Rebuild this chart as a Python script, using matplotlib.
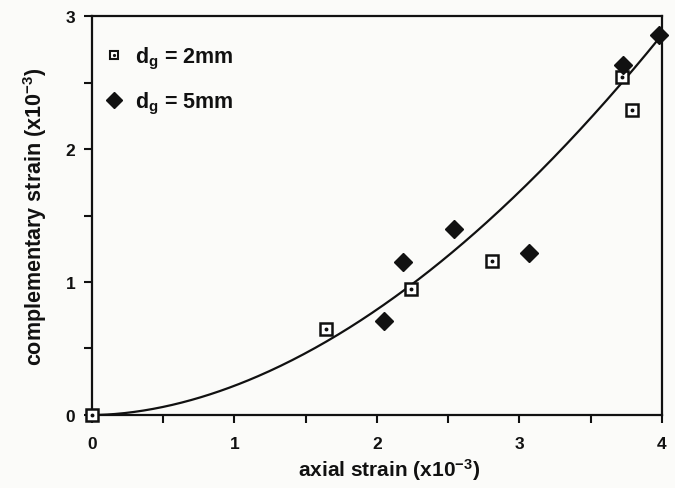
import numpy as np
import matplotlib
matplotlib.use("Agg")
import matplotlib.pyplot as plt
from matplotlib.legend_handler import HandlerTuple
from matplotlib.lines import Line2D
from matplotlib.ticker import MultipleLocator

plt.rcParams["font.family"] = ["Liberation Sans", "DejaVu Sans"]
plt.rcParams["font.weight"] = "bold"
plt.rcParams["mathtext.fontset"] = "custom"
plt.rcParams["mathtext.rm"] = "Liberation Sans:bold"
plt.rcParams["mathtext.it"] = "Liberation Sans:bold"
plt.rcParams["mathtext.bf"] = "Liberation Sans:bold"

# measured strains (x10^-3)
axial_2mm = [0.0, 1.64, 2.24, 2.81, 3.72, 3.79]
comp_2mm = [0.0, 0.65, 0.95, 1.16, 2.54, 2.29]
axial_5mm = [2.05, 2.18, 2.54, 3.07, 3.73, 3.98]
comp_5mm = [0.71, 1.15, 1.40, 1.22, 2.63, 2.86]

# fitted power law: comp = a * axial^n
fit_a = 0.22
fit_n = 1.85

ink = "#111111"
bg = "#fbfbf9"
fig = plt.figure(figsize=(6.75, 4.89), dpi=100, facecolor=bg)
ax = fig.add_axes([0.1363, 0.1493, 0.8444, 0.8159], facecolor=bg)

xf = np.linspace(0, 4, 300)
ax.plot(xf, fit_a * xf ** fit_n, color=ink, lw=1.6, zorder=2)

ax.plot(axial_2mm, comp_2mm, ls="none", marker="s", ms=8,
        mfc="white", mec=ink, mew=1.8, clip_on=False, zorder=4)
ax.plot(axial_2mm, comp_2mm, ls="none", marker="o", ms=1.8,
        color=ink, clip_on=False, zorder=5)
ax.plot(axial_5mm, comp_5mm, ls="none", marker="D", ms=9,
        color=ink, clip_on=False, zorder=4)

ax.set_xlim(0, 4)
ax.set_ylim(0, 3)
ax.xaxis.set_major_locator(MultipleLocator(1))
ax.xaxis.set_minor_locator(MultipleLocator(0.5))
ax.yaxis.set_major_locator(MultipleLocator(1))
ax.yaxis.set_minor_locator(MultipleLocator(0.5))
ax.tick_params(which="both", direction="out", length=6, width=1.5,
               colors=ink, labelsize=12.5)
ax.tick_params(axis="x", pad=9)
ax.tick_params(axis="y", pad=6)

for s in ax.spines.values():
    s.set_linewidth(1.6)
    s.set_color(ink)

ax.set_xlabel(r"axial strain (x10$^{-3}$)", fontsize=15, fontweight="bold",
              labelpad=4, color=ink)
ax.xaxis.label.set_x(0.522)
ax.set_ylabel(r"complementary strain (x10$^{-3}$)", fontsize=15.5,
              fontweight="bold", labelpad=12, color=ink)

sq_h = Line2D([], [], ls="none", marker="s", ms=5.5, mfc="white",
              mec=ink, mew=1.5)
dot_h = Line2D([], [], ls="none", marker="o", ms=1.3, color=ink)
dia_h = Line2D([], [], ls="none", marker="D", ms=8, color=ink)
leg = ax.legend([(sq_h, dot_h), dia_h],
                [r"d$_{\mathrm{g}}$ = 2mm", r"d$_{\mathrm{g}}$ = 5mm"],
                handler_map={tuple: HandlerTuple(ndivide=1, pad=0)},
                loc="upper left", bbox_to_anchor=(0.01, 0.948), frameon=False,
                fontsize=15.5, handlelength=0.75, handletextpad=0.6,
                labelspacing=0.85, borderaxespad=0)
for t in leg.get_texts():
    t.set_fontweight("bold")
    t.set_color(ink)

fig.savefig("out.png", dpi=100, facecolor=bg)
